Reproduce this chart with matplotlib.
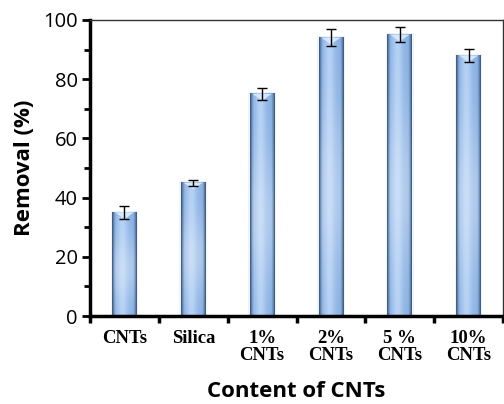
import numpy as np
import matplotlib
matplotlib.use("Agg")
import matplotlib.pyplot as plt
from matplotlib.patches import Polygon

# data
categories = ["CNTs", "Silica", "1%\nCNTs", "2%\nCNTs", "5 %\nCNTs", "10%\nCNTs"]
removal = [35, 45, 75, 94, 95, 88]
removal_err = [2.3, 1.0, 2.0, 2.9, 2.6, 2.1]

fig = plt.figure(figsize=(5.04, 4.04), dpi=100)
ax = fig.add_axes([0.1786, 0.2178, 0.8194, 0.7327])

x = np.arange(len(categories))
bar_w = 0.36

# cylinder-like shading for each bar (horizontal + vertical gradient)
u = np.linspace(0, 1, 60)
dark = np.array([0.22, 0.32, 0.46])
base = np.array([0.53, 0.69, 0.89])
light = np.array([0.78, 0.87, 0.98])
hprof = np.exp(-((u - 0.42) / 0.22) ** 2)
edge = np.clip(1 - np.minimum(u, 1 - u) / 0.15, 0, 1) ** 1.4
hcol = base[None, :] + (light - base)[None, :] * hprof[:, None] * 0.7
hcol = hcol * (1 - edge[:, None]) + dark[None, :] * edge[:, None]

bars = ax.bar(x, removal, width=bar_w, color="none", zorder=2)
for b, val in zip(bars, removal):
    x0 = b.get_x()
    # soft glow around the bar
    ax.bar(x0 + bar_w / 2, val + 0.6, width=bar_w * 1.12, color="#eef4fc",
           zorder=1.5)
    v = np.linspace(0, 1, 80)
    vprof = np.exp(-((v - 0.45) / 0.3) ** 2) * 0.3
    img = hcol[None, :, :] + (1 - hcol[None, :, :]) * vprof[:, None, None] * (1 - edge[None, :, None])
    ax.imshow(np.clip(img, 0, 1), extent=[x0, x0 + bar_w, 0, val], aspect="auto",
              origin="lower", zorder=2, interpolation="bilinear")
    # light cap at top
    cap = Polygon([[x0 + bar_w * 0.12, val], [x0 + bar_w * 0.88, val],
                   [x0 + bar_w * 0.5, val - 2.2]], closed=True,
                  facecolor="#d8e8fa", edgecolor="none", zorder=3)
    ax.add_patch(cap)

ax.errorbar(x, removal, yerr=removal_err, fmt="none", ecolor="black",
            elinewidth=1.0, capsize=3.5, capthick=1.0, zorder=4)

ax.set_xlim(-0.5, len(categories) - 0.5)
ax.set_ylim(0, 100)

ax.set_yticks(np.arange(0, 101, 20))
ax.set_yticks(np.arange(10, 100, 20), minor=True)
ax.tick_params(axis="y", which="major", direction="out", length=6, width=2,
               labelsize=14.5, pad=3)
ax.tick_params(axis="y", which="minor", direction="out", length=4, width=2)
for t in ax.get_yticklabels():
    t.set_fontfamily("Open Sans")

ax.set_xticks(x)
ax.set_xticklabels(categories, fontfamily="Liberation Serif", fontweight="bold",
                   fontsize=13.5, linespacing=1.0)
ax.tick_params(axis="x", which="major", length=0, pad=10)
ax.set_xticks(np.arange(-0.5, len(categories), 1.0), minor=True)
ax.tick_params(axis="x", which="minor", direction="out", length=5, width=2.5)

ax.spines["left"].set_linewidth(2.5)
ax.spines["bottom"].set_linewidth(2.5)
ax.spines["top"].set_linewidth(1.0)
ax.spines["right"].set_linewidth(1.0)
ax.spines["top"].set_color("#333333")
ax.spines["right"].set_color("#333333")

ax.set_ylabel("Removal (%)", fontfamily="Open Sans", fontweight="bold",
              fontsize=16, labelpad=6)
ax.set_xlabel("Content of CNTs", fontfamily="Open Sans", fontweight="bold",
              fontsize=16, labelpad=12)

fig.savefig("out.png", dpi=100)
